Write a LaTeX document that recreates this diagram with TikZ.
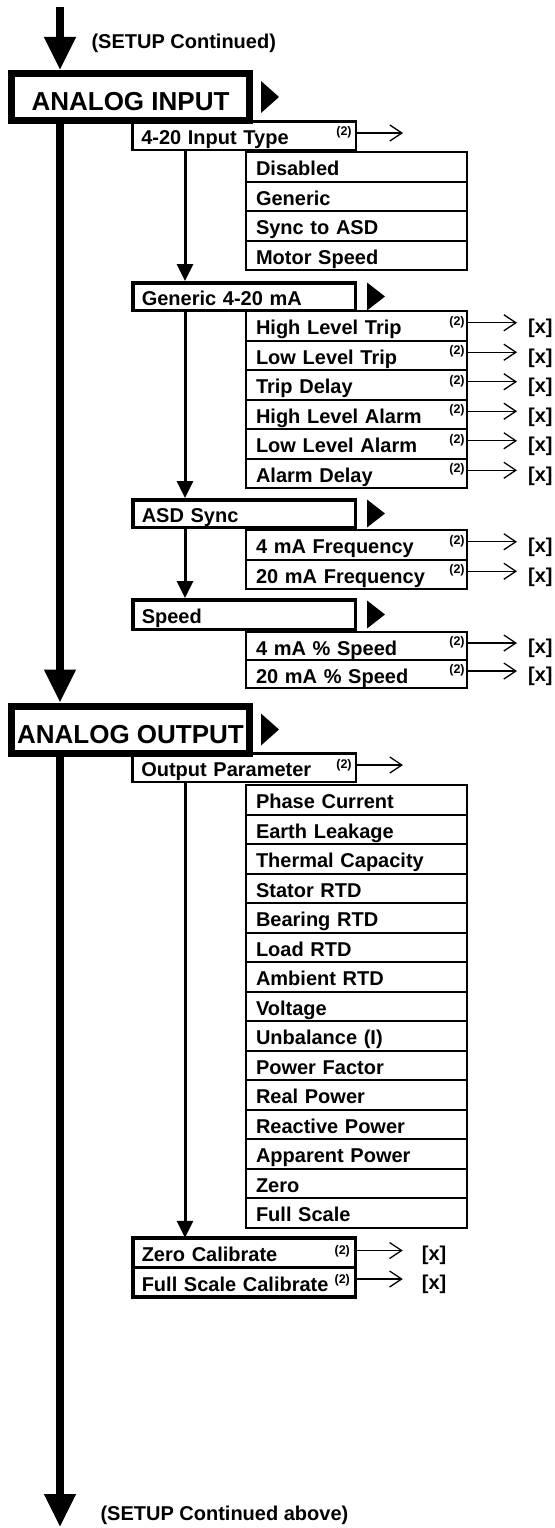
\documentclass[tikz,border=0pt]{standalone}
\usepackage{fontspec}
\setmainfont{Liberation Sans}
\usetikzlibrary{arrows.meta,positioning}

\begin{document}
\begin{tikzpicture}[
  x=1pt, y=-1pt,
  font=\bfseries\fontsize{20}{22}\selectfont,
  mainbox/.style={draw, line width=7pt, minimum width=238pt, minimum height=47pt, inner sep=0pt, text height=27pt, text depth=0pt, font=\bfseries\fontsize{26}{28}\selectfont},
  subbox/.style={draw, line width=2.5pt, inner xsep=9pt, inner ysep=0pt, text width=205.5pt, minimum height=28.5pt, align=left, text height=18pt, text depth=0pt},
  headbox/.style={subbox, line width=3.5pt, text width=204.5pt, minimum height=27.5pt},
  calbox/.style={headbox, outer sep=0pt, minimum height=29.5pt},
  itemrow/.style={draw, line width=2pt, outer sep=0pt, inner xsep=10pt, inner ysep=0pt, text width=201pt, minimum height=29.5pt, align=left, text height=18pt, text depth=0pt},
  note/.style={inner sep=0pt, font=\bfseries\fontsize{12.5}{13}\selectfont},
  xval/.style={inner sep=0pt, text height=15.5pt, text depth=0pt},
  flowarr/.style={-{Triangle[length=33pt,width=30pt]}, line width=7.5pt},
  subarr/.style={-{Triangle[length=17pt,width=16pt]}, line width=3pt},
  setarr/.style={-{Straight Barb[length=12pt,width=16pt]}, line width=1.3pt, shorten >=11pt}
]
\useasboundingbox (0,0) rectangle (554,1528);

\coordinate (top) at (60,7);
\coordinate (bot) at (60,1527);
\node[anchor=west] (contin) at (88,43) {(SETUP Continued)};

% analog input
\node[mainbox] (ain) at (130.5,97) {ANALOG INPUT};
\fill ([xshift=8pt,yshift=16pt]ain.east) -- ++(18pt,-16pt) -- ++(-18pt,-16pt) -- cycle;

\node[subbox] (intype) at (244,135.5) {4-20 Input Type};
\node[note] (intypen) at ([xshift=-13pt,yshift=3pt]intype.east) {(2)};
\coordinate[right=46pt of intype] (intypee);
\draw[setarr, shorten >=0pt] ([yshift=2.5pt]intype.east) -- ([yshift=2.5pt]intypee);

\node[itemrow, anchor=north west] (disabled) at (246,152) {Disabled};
\node[itemrow, below=0pt of disabled] (generic) {Generic};
\node[itemrow, below=0pt of generic] (syncasd) {Sync to ASD};
\node[itemrow, below=0pt of syncasd] (motorspd) {Motor Speed};

% generic 4-20 mA
\node[headbox] (gen420) at (244,296.5) {Generic 4-20 mA};
\fill ([xshift=10pt,yshift=14pt]gen420.east) -- ++(18pt,-14pt) -- ++(-18pt,-14pt) -- cycle;

\node[itemrow, anchor=north west] (hitrip) at (246,311) {High Level Trip};
\node[itemrow, below=0pt of hitrip] (lotrip) {Low Level Trip};
\node[itemrow, below=0pt of lotrip] (tripdly) {Trip Delay};
\node[itemrow, below=0pt of tripdly] (hialarm) {High Level Alarm};
\node[itemrow, below=0pt of hialarm] (loalarm) {Low Level Alarm};
\node[itemrow, below=0pt of loalarm] (alarmdly) {Alarm Delay};

\node[note] (hitripn) at ([xshift=-10pt,yshift=3.5pt]hitrip.east) {(2)};
\node[note] (lotripn) at ([xshift=-10pt,yshift=3.5pt]lotrip.east) {(2)};
\node[note] (tripdlyn) at ([xshift=-10pt,yshift=3.5pt]tripdly.east) {(2)};
\node[note] (hialarmn) at ([xshift=-10pt,yshift=3.5pt]hialarm.east) {(2)};
\node[note] (loalarmn) at ([xshift=-10pt,yshift=3.5pt]loalarm.east) {(2)};
\node[note] (alarmdlyn) at ([xshift=-10pt,yshift=3.5pt]alarmdly.east) {(2)};

\node[xval, right=61pt of hitrip] (hitripv) {[x]};
\node[xval, right=61pt of lotrip] (lotripv) {[x]};
\node[xval, right=61pt of tripdly] (tripdlyv) {[x]};
\node[xval, right=61pt of hialarm] (hialarmv) {[x]};
\node[xval, right=61pt of loalarm] (loalarmv) {[x]};
\node[xval, right=61pt of alarmdly] (alarmdlyv) {[x]};

\draw[setarr] ([yshift=3pt]hitrip.east) -- ([yshift=3pt]hitripv.west);
\draw[setarr] ([yshift=3pt]lotrip.east) -- ([yshift=3pt]lotripv.west);
\draw[setarr] ([yshift=3pt]tripdly.east) -- ([yshift=3pt]tripdlyv.west);
\draw[setarr] ([yshift=3pt]hialarm.east) -- ([yshift=3pt]hialarmv.west);
\draw[setarr] ([yshift=3pt]loalarm.east) -- ([yshift=3pt]loalarmv.west);
\draw[setarr] ([yshift=3pt]alarmdly.east) -- ([yshift=3pt]alarmdlyv.west);

% asd sync
\node[headbox] (asdsync) at (244,513.5) {ASD Sync};
\fill ([xshift=10pt,yshift=14pt]asdsync.east) -- ++(18pt,-14pt) -- ++(-18pt,-14pt) -- cycle;

\node[itemrow, anchor=north west] (freq4) at (246,530) {4 mA Frequency};
\node[itemrow, below=0pt of freq4] (freq20) {20 mA Frequency};
\node[note] (freq4n) at ([xshift=-10pt,yshift=3.5pt]freq4.east) {(2)};
\node[note] (freq20n) at ([xshift=-10pt,yshift=3.5pt]freq20.east) {(2)};
\node[xval, right=61pt of freq4] (freq4v) {[x]};
\node[xval, right=61pt of freq20] (freq20v) {[x]};
\draw[setarr] ([yshift=3pt]freq4.east) -- ([yshift=3pt]freq4v.west);
\draw[setarr] ([yshift=3pt]freq20.east) -- ([yshift=3pt]freq20v.west);

% speed
\node[headbox, minimum height=29.5pt] (speed) at (244,614.5) {Speed};
\fill ([xshift=10pt,yshift=14pt]speed.east) -- ++(18pt,-14pt) -- ++(-18pt,-14pt) -- cycle;

\node[itemrow, anchor=north west, minimum height=28pt] (spd4) at (246,632) {4 mA \% Speed};
\node[itemrow, below=0pt of spd4, minimum height=28pt] (spd20) {20 mA \% Speed};
\node[note] (spd4n) at ([xshift=-10pt,yshift=3.5pt]spd4.east) {(2)};
\node[note] (spd20n) at ([xshift=-10pt,yshift=3.5pt]spd20.east) {(2)};
\node[xval, right=61pt of spd4] (spd4v) {[x]};
\node[xval, right=61pt of spd20] (spd20v) {[x]};
\draw[setarr] ([yshift=3pt]spd4.east) -- ([yshift=3pt]spd4v.west);
\draw[setarr] ([yshift=3pt]spd20.east) -- ([yshift=3pt]spd20v.west);

\draw[subarr] ([xshift=-59pt]intype.south) -- ([xshift=-59pt]gen420.north);
\draw[subarr] ([xshift=-59pt]gen420.south) -- ([xshift=-59pt]asdsync.north);
\draw[subarr] ([xshift=-59pt]asdsync.south) -- ([xshift=-59pt]speed.north);

% analog output
\node[mainbox] (aout) at (130.5,729.5) {ANALOG OUTPUT};
\fill ([xshift=8pt,yshift=16pt]aout.east) -- ++(18pt,-16pt) -- ++(-18pt,-16pt) -- cycle;

\node[subbox] (outparam) at (244,767.5) {Output Parameter};
\node[note] (outparamn) at ([xshift=-13pt,yshift=2.5pt]outparam.east) {(2)};
\coordinate[right=46pt of outparam] (outparame);
\draw[setarr, shorten >=0pt] ([yshift=2.5pt]outparam.east) -- ([yshift=2.5pt]outparame);

\node[itemrow, anchor=north west] (phcur) at (246,785) {Phase Current};
\node[itemrow, below=0pt of phcur] (earthlk) {Earth Leakage};
\node[itemrow, below=0pt of earthlk] (thermcap) {Thermal Capacity};
\node[itemrow, below=0pt of thermcap] (statrtd) {Stator RTD};
\node[itemrow, below=0pt of statrtd] (bearrtd) {Bearing RTD};
\node[itemrow, below=0pt of bearrtd] (loadrtd) {Load RTD};
\node[itemrow, below=0pt of loadrtd] (ambrtd) {Ambient RTD};
\node[itemrow, below=0pt of ambrtd] (voltage) {Voltage};
\node[itemrow, below=0pt of voltage] (unbal) {Unbalance (I)};
\node[itemrow, below=0pt of unbal] (pfactor) {Power Factor};
\node[itemrow, below=0pt of pfactor] (realpw) {Real Power};
\node[itemrow, below=0pt of realpw] (reactpw) {Reactive Power};
\node[itemrow, below=0pt of reactpw] (apparpw) {Apparent Power};
\node[itemrow, below=0pt of apparpw] (zero) {Zero};
\node[itemrow, below=0pt of zero] (fullsc) {Full Scale};

% calibration
\node[calbox, anchor=north] (zerocal) at (244,1237.75) {Zero Calibrate};
\node[calbox, below=0pt of zerocal] (fullcal) {Full Scale Calibrate};
\node[note] (zerocaln) at ([xshift=-13pt,yshift=1pt]zerocal.east) {(2)};
\node[note] (fullcaln) at ([xshift=-13pt,yshift=2pt]fullcal.east) {(2)};
\node[xval, right=66.5pt of zerocal] (zerocalv) {[x]};
\node[xval, right=66.5pt of fullcal] (fullcalv) {[x]};
\draw[setarr, shorten >=19pt] ([yshift=2pt]zerocal.east) -- ([yshift=2pt]zerocalv.west);
\draw[setarr, shorten >=19pt] ([yshift=3pt]fullcal.east) -- ([yshift=3pt]fullcalv.west);

\draw[subarr] ([xshift=-59pt]outparam.south) -- ([xshift=-59pt]zerocal.north);

% main flow
\draw[flowarr] (top) -- (top |- ain.north);
\draw[flowarr] (top |- ain.south) -- (top |- aout.north);
\draw[flowarr] (top |- aout.south) -- (bot);
\node[anchor=west] (contabove) at (97,1515) {(SETUP Continued above)};
\end{tikzpicture}
\end{document}
